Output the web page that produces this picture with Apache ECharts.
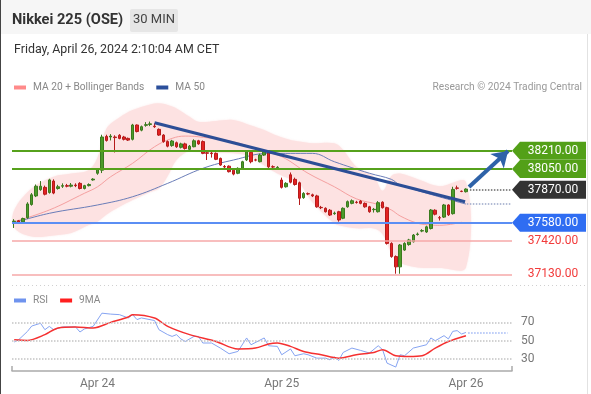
<!DOCTYPE html>
<html><head><meta charset="utf-8">
<script src="https://cdn.jsdelivr.net/npm/echarts@6/dist/echarts.min.js"></script>
<style>html,body{margin:0;padding:0;background:#fff}#c{width:591px;height:394px}</style>
</head><body><div id="c"></div>
<script>
// ---- candles (30 min) ----
const opens  = [37590,37598,37588,37625,37740,37815,37870,37890,37845,37945,37880,37900,37905,37900,37910,37925,37880,37905,37955,38013,
38040,38335,38330,38330,38345,38330,38318,38310,38435,38390,38432,38440,38425,38397,38347,38290,38255,38280,38240,38270,
38222,38245,38297,38290,38192,38190,38187,38143,38072,38075,38040,38013,38056,38130,38196,38130,38114,38172,38193,38070,
38062,37954,37895,38000,37960,37930,37800,37835,37825,37815,37715,37707,37690,37660,37677,37620,37720,37750,37760,37770,
37750,37720,37695,37677,37760,37712,37400,37285,37195,37342,37390,37415,37478,37508,37500,37530,37690,37625,37630,37736,
37660,37885,37856,37852];
const closes = [37595,37585,37618,37745,37825,37900,37900,37830,37955,37840,37895,37905,37900,37910,37905,37880,37905,37915,37962,38048,
38330,38300,38338,38325,38318,38310,38303,38435,38378,38420,38438,38445,38420,38347,38290,38250,38295,38245,38270,38230,
38250,38297,38270,38187,38188,38185,38135,38085,38068,38027,38006,38056,38114,38201,38114,38128,38172,38201,38070,38068,
38065,37890,37925,37935,37915,37795,37837,37832,37815,37720,37712,37677,37648,37665,37605,37707,37765,37773,37758,37750,
37720,37677,37698,37756,37712,37400,37285,37195,37386,37400,37430,37473,37482,37512,37545,37692,37655,37622,37736,37650,
37872,37882,37854,37875];
const highs  = [37612,37605,37625,37760,37840,37915,37945,37905,37965,37960,37912,37925,37920,37928,37925,37935,37912,37925,37970,38058,
38350,38350,38355,38345,38355,38340,38325,38445,38440,38430,38460,38465,38450,38405,38355,38300,38305,38290,38280,38280,
38260,38310,38305,38300,38200,38200,38195,38150,38085,38082,38048,38065,38122,38212,38205,38140,38185,38215,38200,38082,
38075,37975,37935,38020,37975,37940,37848,37845,37835,37825,37728,37715,37700,37678,37685,37715,37775,37785,37772,37778,
37758,37728,37710,37770,37768,37720,37410,37295,37395,37410,37440,37482,37495,37525,37555,37700,37698,37640,37745,37742,
37895,37905,37862,37882];
const lows   = [37535,37578,37582,37615,37730,37805,37860,37820,37835,37830,37870,37885,37890,37890,37892,37872,37872,37898,37948,38000,
38015,38290,38300,38195,38310,38300,38295,38300,38370,38380,38420,38425,38410,38340,38280,38240,38245,38235,38230,38220,
38210,38240,38262,38180,38129,38150,38128,38078,38055,38020,37995,38005,38050,38120,38100,38118,38108,38165,38060,38058,
38055,37880,37888,37925,37905,37736,37790,37822,37805,37712,37700,37670,37640,37650,37590,37612,37712,37742,37748,37742,
37712,37668,37670,37670,37705,37390,37275,37135,37135,37335,37380,37408,37468,37498,37492,37522,37645,37600,37622,37640,
37652,37870,37848,37845];

// ---- indicators (x = candle slot) ----
const ma20Pts  = [[0,37590],[8,37692],[16,37838],[19,37895],[22,37983],[27,38100],[32,38245],[36,38318],[39,38338],[42,38332],
[50,38288],[56,38216],[61,38158],[67,38013],[73,37895],[78,37790],[83,37740],[86,37692],[88,37640],[92,37576],[95,37561],[97,37558],[102,37585]];
const ma50Pts  = [[0,37581],[8,37663],[19,37736],[27,37808],[35,37925],[43,38056],[50,38129],[58,38187],[68,38187],[73,38114],
[81,38013],[86,37960],[88,37910],[103,37744]];
const bandIdx   = [0,4,9,13,17,19,21,24,27,31,33,35,37,40,42,46,50,54,57,60,63,65,68,73,75,78,82,84,86,88,92,97,103];
const bandUpper = [37690,37880,37983,38010,38041,38150,38400,38500,38566,38615,38625,38610,38580,38507,38463,38470,38478,38430,38391,38340,38303,38290,38275,38275,38216,38070,37983,37860,37990,38010,37960,37900,37935];
const bandLower = [37540,37460,37470,37490,37560,37590,37650,37720,37779,37850,37880,37990,38130,38210,38201,38193,38187,38158,38080,38010,37960,37925,37760,37576,37550,37532,37530,37480,37320,37230,37190,37185,37190];
const rsiPts = [[0,48.6],[1,51],[3,60],[4,66],[6,69],[7,62],[8,65.6],[9,62],[11,65],[14,65],[15,59.5],[16,62.8],[18,65.6],[20,80],[22,79],
[24,78.4],[26,74.8],[27,78.4],[28,73],[29,74.8],[32,72],[33,62],[35,56.6],[36,54.7],[37,56.6],[38,51.9],[39,49.2],[41,54.7],[42,54.7],
[43,47.5],[45,47.5],[47,42],[49,35.8],[51,38.3],[53,53],[54,45.6],[57,53],[58,44.5],[60,43.8],[61,34.7],[63,41],[64,33.6],[66,35.8],
[67,34.7],[69,31],[71,31],[72,29.2],[73,32.2],[74,28.5],[75,37.2],[77,42],[79,39.4],[81,36.6],[83,44.5],[84,40.2],[85,25.6],[87,21.3],
[88,34.7],[89,33.6],[91,42],[94,45.6],[95,53],[96,50],[98,55.5],[99,51.9],[100,60.2],[101,61],[102,57.3],[103,59]];
const rsiMaPts = [[0,51],[3,50.3],[7,56.6],[10,63.9],[14,65],[18,63.9],[22,70],[26,75.9],[27,78.4],[32,74.8],[35,65.6],[40,56.6],
[46,49.2],[51,41],[55,42],[58,46.4],[60,47.5],[63,43.8],[66,38.3],[70,34.7],[74,31],[78,34.7],[82,37.2],[84,40.2],[87,33.6],[90,32.8],
[93,33.6],[96,42],[99,49.2],[103,55.5]];

// ---- analysis levels / drawings ----
const resistLevels = [38210, 38050];
const lastPrice = 37870;
const supportLevels = [37580];
const weakSupport = [37420, 37130];
const ma50Last = 37744;
const rsiLast = 59;
const trendLine = [[32,38455],[102.8,37764]];
const projArrow = [[103.7,37893],[112.6,38207]];
const rsiLevels = [70, 50, 30];
const tickIdx = [19, 61, 103];
const tickLabels = ['Apr 24', 'Apr 25', 'Apr 26'];
const slotCount = 114;
const categories = Array.from({length: slotCount}, (_, i) => 'c' + i);

const FONT = 'Roboto, "Liberation Sans", Arial, sans-serif';
const candleData = opens.map((o, i) => [o, closes[i], lows[i], highs[i]]);

function tag(value, bg, fg) {
  return {
    coord: [slotCount - 0.5, value],
    symbol: 'path://M0,9L8,0L74,0L74,18L8,18Z',
    symbolSize: [74, 18],
    symbolOffset: [37, 0],
    symbolKeepAspect: false,
    itemStyle: {color: bg},
    label: {show: true, position: 'inside', offset: [4, 0], formatter: value.toFixed(2), color: fg, fontSize: 12, fontFamily: FONT}
  };
}

const chart = echarts.init(document.getElementById('c'), null, {renderer: 'canvas'});
chart.setOption({
  animation: false,
  backgroundColor: '#fff',
  textStyle: {fontFamily: FONT},
  graphic: [
    {type: 'rect', shape: {x: 0, y: 0, width: 591, height: 34}, style: {fill: '#f6f6f6'}, z: -10},
    {type: 'rect', shape: {x: 130, y: 9, width: 48, height: 23, r: 2}, style: {fill: '#e6e6e6'}},
    {type: 'text', x: 12, y: 20, style: {text: 'Nikkei 225 (OSE)', font: 'bold 14.6px ' + FONT, fill: '#333', verticalAlign: 'middle'}},
    {type: 'text', x: 154, y: 20, style: {text: '30 MIN', font: '13px ' + FONT, fill: '#444', align: 'center', verticalAlign: 'middle'}},
    {type: 'text', x: 14, y: 50, style: {text: 'Friday, April 26, 2024 2:10:04 AM CET', font: '12.4px ' + FONT, fill: '#333', verticalAlign: 'middle'}},
    {type: 'text', x: 582, y: 87, style: {text: 'Research © 2024 Trading Central', font: '10.2px ' + FONT, fill: '#999', align: 'right', verticalAlign: 'middle'}},
    {type: 'line', shape: {x1: 0.5, y1: 0, x2: 0.5, y2: 394}, style: {stroke: '#444', lineWidth: 1}},
    {type: 'line', shape: {x1: 587.5, y1: 34, x2: 587.5, y2: 394}, style: {stroke: '#e2e2e2', lineWidth: 1}},
    {type: 'line', shape: {x1: 12, y1: 285.5, x2: 587, y2: 285.5}, style: {stroke: '#d0d0d0', lineWidth: 1, lineDash: [1, 3]}}
  ],
  legend: [
    {left: 14, top: 82.5, padding: 0, icon: 'rect', itemWidth: 12, itemHeight: 4, itemGap: 12, selectedMode: false,
     textStyle: {color: '#888', fontSize: 10.2, fontFamily: FONT, padding: [0, 0, 0, 2]},
     data: [{name: 'MA 20 + Bollinger Bands', itemStyle: {color: '#ff8a8a'}}, {name: 'MA 50', itemStyle: {color: '#2b4f9b'}}]},
    {left: 14, top: 295.5, padding: 0, icon: 'rect', itemWidth: 12, itemHeight: 4, itemGap: 12, selectedMode: false,
     textStyle: {color: '#888', fontSize: 10.2, fontFamily: FONT, padding: [0, 0, 0, 2]},
     data: [{name: 'RSI', itemStyle: {color: '#6f93ee'}}, {name: '9MA', itemStyle: {color: '#ff1f1f'}}]}
  ],
  grid: [
    {left: 12, right: 79, top: 100.4, height: 184.2},
    {left: 12, right: 79, top: 304, height: 67}
  ],
  xAxis: [
    {type: 'category', gridIndex: 0, data: categories, boundaryGap: true, show: false},
    {type: 'value', gridIndex: 0, min: -0.5, max: slotCount - 0.5, show: false},
    {type: 'value', gridIndex: 1, min: -0.5, max: slotCount - 0.5,
     axisLine: {show: true, onZero: false, lineStyle: {color: '#aaa', width: 1.5}},
     axisTick: {show: true, inside: true, length: 5, customValues: [-0.5, slotCount - 0.5], lineStyle: {color: '#aaa', width: 1.5}},
     axisLabel: {show: true, customValues: tickIdx, margin: 7, color: '#777', fontSize: 12, fontFamily: FONT,
       formatter: v => tickLabels[tickIdx.indexOf(Math.round(v))] || ''},
     splitLine: {show: false}}
  ],
  yAxis: [
    {type: 'value', gridIndex: 0, min: 37040, max: 38650, show: false, splitLine: {show: false}},
    {type: 'value', gridIndex: 1, min: 17, max: 90, show: false, splitLine: {show: false}}
  ],
  series: [
    {type: 'custom', name: 'band', xAxisIndex: 1, yAxisIndex: 0, z: 1, silent: true, clip: false,
     data: [[0, 37500]],
     renderItem: (params, api) => {
       const pts = [];
       for (let k = 0; k < bandIdx.length; k++) pts.push(api.coord([bandIdx[k], bandUpper[k]]));
       for (let k = bandIdx.length - 1; k >= 0; k--) pts.push(api.coord([bandIdx[k], bandLower[k]]));
       return {type: 'polygon', shape: {points: pts, smooth: 0.35},
               style: {fill: '#fde2e2', shadowBlur: 2, shadowColor: 'rgba(250,205,205,0.5)'}};
     }},
    {type: 'line', name: 'levels', xAxisIndex: 1, yAxisIndex: 0, data: [], z: 2, clip: false,
     markLine: {silent: true, symbol: 'none', label: {show: false},
       data: [
         ...resistLevels.map(v => ({yAxis: v, lineStyle: {color: '#56a11c', width: 2, type: 'solid'}})),
         ...supportLevels.map(v => ({yAxis: v, lineStyle: {color: '#5b8ef4', width: 2, type: 'solid'}})),
         ...weakSupport.map(v => ({yAxis: v, lineStyle: {color: '#f6a9a9', width: 1.5, type: 'solid'}})),
         [{coord: [103.9, lastPrice], lineStyle: {color: '#666', width: 1.5, type: 'dotted'}}, {coord: [slotCount - 0.7, lastPrice]}],
         [{coord: [103.2, ma50Last], lineStyle: {color: '#9aa6c8', width: 1.5, type: 'dotted'}}, {coord: [slotCount - 0.7, ma50Last]}]
       ]},
     markPoint: {silent: true, data: [
       ...resistLevels.map(v => tag(v, '#53a018', '#fff')),
       tag(lastPrice, '#333333', '#fff'),
       ...supportLevels.map(v => tag(v, '#2f6df2', '#fff')),
       ...weakSupport.map(v => tag(v, 'rgba(255,255,255,0)', '#f23b3b'))
     ]}},
    {type: 'line', name: 'MA 20 + Bollinger Bands', xAxisIndex: 1, yAxisIndex: 0, data: ma20Pts, smooth: 0.4,
     symbol: 'none', z: 3, lineStyle: {color: '#f5a0a0', width: 1}, itemStyle: {color: '#ff8a8a'}},
    {type: 'line', name: 'MA 50', xAxisIndex: 1, yAxisIndex: 0, data: ma50Pts, smooth: 0.4,
     symbol: 'none', z: 3, lineStyle: {color: '#6a7db8', width: 1}, itemStyle: {color: '#2b4f9b'}},
    {type: 'candlestick', name: 'Nikkei', xAxisIndex: 0, yAxisIndex: 0, data: candleData, barWidth: 3, z: 4,
     itemStyle: {color: '#4c9a2a', color0: '#e32222', borderColor: '#3b7a1f', borderColor0: '#b51b1b', borderWidth: 1}},
    {type: 'line', name: 'drawings', xAxisIndex: 1, yAxisIndex: 0, data: [], z: 5, clip: false,
     markLine: {silent: true, label: {show: false},
       data: [
         [{coord: trendLine[0], symbol: 'none', lineStyle: {color: '#2c4e96', width: 3, type: 'solid'}}, {coord: trendLine[1], symbol: 'none'}],
         [{coord: projArrow[0], symbol: 'none', lineStyle: {color: '#2e62a8', width: 4, type: 'solid'}}, {coord: projArrow[1], symbol: 'arrow', symbolSize: 15}]
       ]}},
    {type: 'line', name: 'RSI', xAxisIndex: 2, yAxisIndex: 1, data: rsiPts, symbol: 'none', z: 3,
     lineStyle: {color: '#86a4f2', width: 1}, itemStyle: {color: '#6f93ee'},
     markLine: {silent: true, symbol: 'none',
       label: {show: true, position: 'end', distance: 9, color: '#777', fontSize: 12, fontFamily: FONT, formatter: p => String(p.value)},
       data: [
         ...rsiLevels.map(v => ({yAxis: v, lineStyle: {color: '#c4c4c4', width: 1.5, type: 'dotted'}})),
         [{coord: [103.5, rsiLast], label: {show: false}, lineStyle: {color: '#9fb6f4', width: 1.5, type: 'dotted'}}, {coord: [slotCount - 1.5, rsiLast]}]
       ]}},
    {type: 'line', name: '9MA', xAxisIndex: 2, yAxisIndex: 1, data: rsiMaPts, smooth: 0.3, symbol: 'none', z: 4,
     lineStyle: {color: '#f53030', width: 1.5}, itemStyle: {color: '#ff1f1f'}}
  ]
});
</script></body></html>
